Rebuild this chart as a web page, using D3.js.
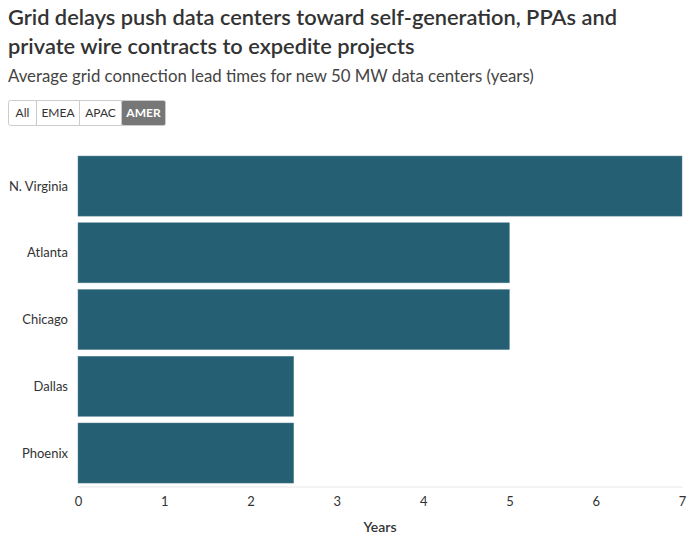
<!DOCTYPE html>
<meta charset="utf-8">
<style>
body { margin: 0; font-family: "Source Sans Pro", Lato, sans-serif; background: #fff; }
.chart text { font-family: "Source Sans Pro", Lato, sans-serif; }
</style>
<svg class="chart"></svg>
<script src="https://cdn.jsdelivr.net/npm/d3@7"></script>
<script>

var cities = ["N. Virginia", "Atlanta", "Chicago", "Dallas", "Phoenix"];
var leadTimes = [7, 5, 5, 2.5, 2.5];
var xTicks = [0, 1, 2, 3, 4, 5, 6, 7];
var regions = ["All", "EMEA", "APAC", "AMER"];
var activeRegion = "AMER";

var width = 700, height = 539;
var margin = {left: 78, right: 18};

var svg = d3.select(".chart")
  .attr("width", width)
  .attr("height", height);

// titles
svg.append("text")
  .attr("x", 8).attr("y", 25)
  .style("font-size", "21.8px").style("font-weight", 600).style("fill", "#333")
  .text("Grid delays push data centers toward self-generation, PPAs and");
svg.append("text")
  .attr("x", 8).attr("y", 54)
  .style("font-size", "21.8px").style("font-weight", 600).style("fill", "#333")
  .text("private wire contracts to expedite projects");
svg.append("text")
  .attr("x", 8).attr("y", 82)
  .style("font-size", "16.8px").style("fill", "#444")
  .text("Average grid connection lead times for new 50 MW data centers (years)");

// region buttons
var btnWidths = [28, 43, 42, 44];
var bx = 8;
var btn = svg.append("g").attr("transform", "translate(0,100)");
regions.forEach(function(r, i) {
  var on = r === activeRegion;
  btn.append("rect")
    .attr("x", bx + 0.5).attr("y", 0.5)
    .attr("width", btnWidths[i]).attr("height", 25)
    .attr("rx", i === 0 || i === regions.length - 1 ? 2 : 0)
    .style("fill", on ? "#777" : "#fff")
    .style("stroke", "#ccc");
  btn.append("text")
    .attr("x", bx + btnWidths[i] / 2 + 0.5).attr("y", 17)
    .attr("text-anchor", "middle")
    .style("font-size", "12px").style("font-weight", on ? 700 : 400)
    .style("fill", on ? "#fff" : "#333")
    .text(r);
  bx += btnWidths[i];
});

// scales
var x = d3.scaleLinear()
  .domain([0, 7])
  .range([margin.left, width - margin.right]);

var y = d3.scaleBand()
  .domain(cities)
  .range([152.7, 486.4])
  .paddingInner(0.1)
  .paddingOuter(0.05);

// bars
svg.selectAll("rect.bar")
  .data(cities)
  .enter().append("rect")
  .attr("class", "bar")
  .attr("x", x(0))
  .attr("y", function(d) { return y(d); })
  .attr("width", function(d, i) { return x(leadTimes[i]) - x(0); })
  .attr("height", y.bandwidth())
  .style("fill", "#245f73")
  .style("stroke", "#5b8797")
  .style("stroke-width", 0.5);

// category labels
svg.selectAll("text.cat")
  .data(cities)
  .enter().append("text")
  .attr("class", "cat")
  .attr("x", 68)
  .attr("y", function(d) { return y(d) + y.bandwidth() / 2; })
  .attr("dy", "0.35em")
  .attr("text-anchor", "end")
  .style("font-size", "13px").style("fill", "#333")
  .text(function(d) { return d; });

// x axis
var axis = svg.append("g")
  .attr("transform", "translate(0,486.5)")
  .call(d3.axisBottom(x).tickValues(xTicks).tickFormat(d3.format("d")).tickSize(0).tickPadding(10));
axis.select(".domain").style("stroke", "#e6e6e6");
axis.selectAll("text")
  .style("font-size", "13px").style("fill", "#333")
  .style("font-family", "\"Source Sans Pro\", Lato, sans-serif");

svg.append("text")
  .attr("x", (x(0) + x(7)) / 2).attr("y", 532)
  .attr("text-anchor", "middle")
  .style("font-size", "14px").style("font-weight", 600).style("fill", "#333")
  .text("Years");

</script>
